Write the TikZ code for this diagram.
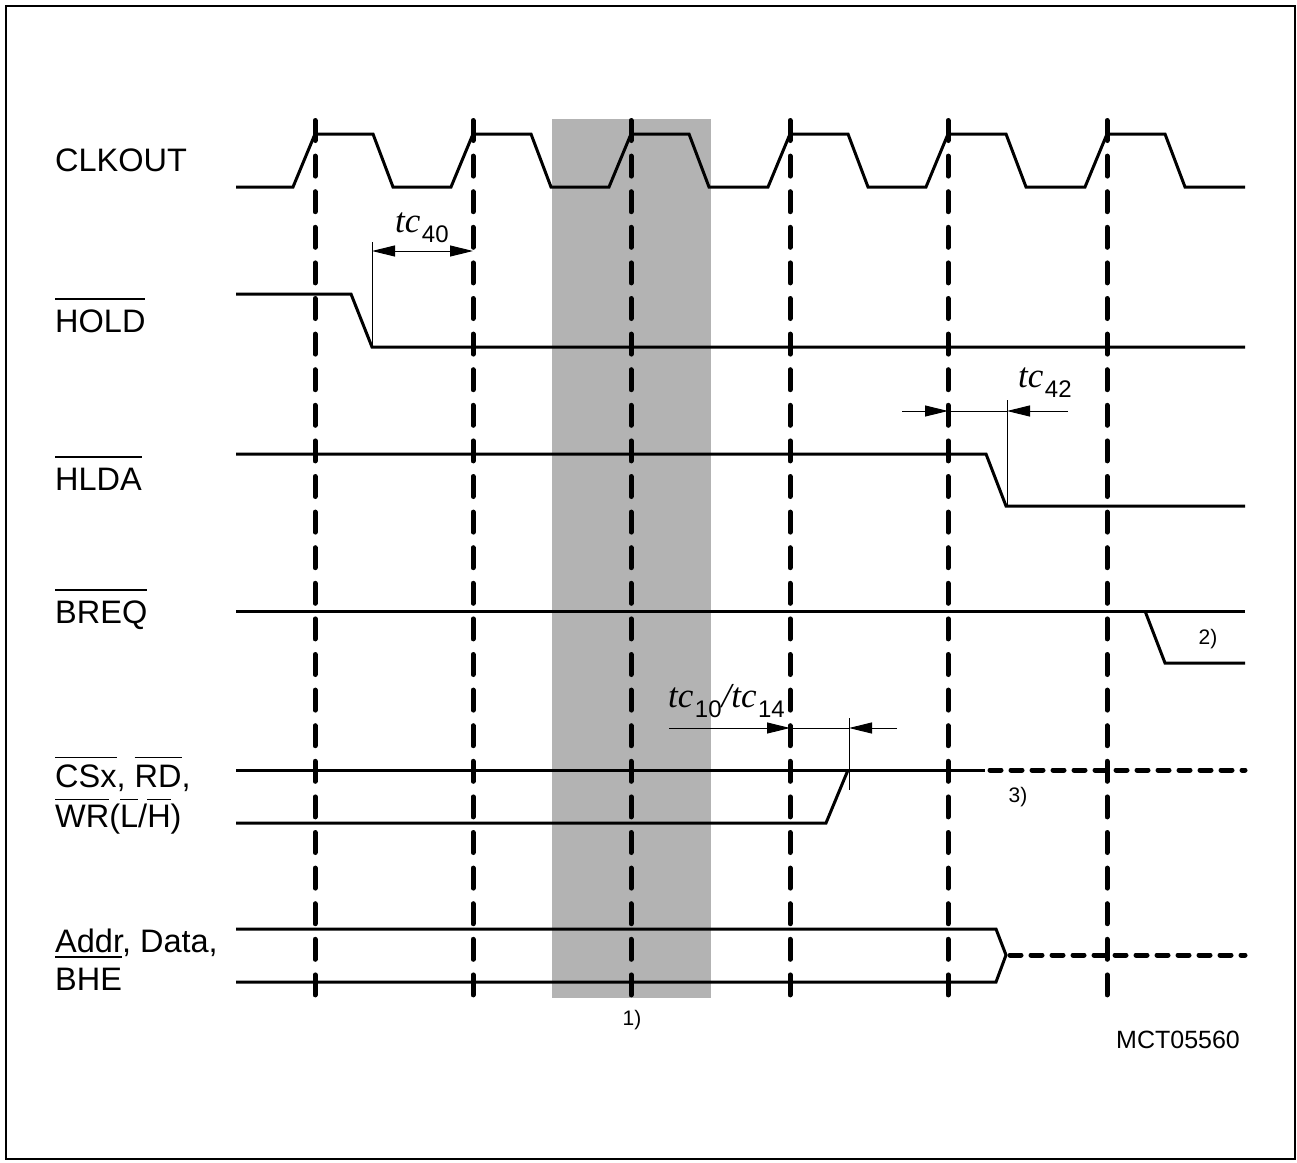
\documentclass[tikz,border=0pt]{standalone}
\usepackage{fontspec}
\setmainfont{Liberation Sans}
\newfontfamily\serifit{Liberation Serif}
\usetikzlibrary{arrows.meta}
\definecolor{bandgray}{RGB}{179,179,179}
\newcommand\ovl[2][1.0em]{\setbox0\hbox{#2}\rlap{\rule[#1]{\wd0}{0.045em}}\box0}
\newcommand\tcit[1]{{\serifit\itshape\fontsize{35}{35}\selectfont #1}}
\newcommand\tcsub[1]{\hspace{1.5pt}\raisebox{-10pt}{\fontsize{24}{24}\selectfont #1}}
\begin{document}
\begin{tikzpicture}[x=1pt,y=-1pt,
  sig/.style={line width=3pt},
  gridline/.style={line width=5pt, line cap=round, dash pattern=on 20pt off 15.6pt},
  dsig/.style={line width=5pt, line cap=round, dash pattern=on 11pt off 10pt},
  dim/.style={line width=1pt},
  tip/.style={-{Triangle[length=23pt,width=11pt]}},
  lbl/.style={anchor=base west, inner sep=0pt, font=\fontsize{32.5}{32.5}\selectfont},
  note/.style={anchor=base, inner sep=0pt, font=\fontsize{21}{21}\selectfont}]
\useasboundingbox (0,0) rectangle (1297,1162);
\draw[line width=2.5pt] (6,6) rectangle (1295,1159);
% shaded region
\fill[bandgray] (552,119) rectangle (711,998);
% CLKOUT
\draw[sig] (236,187) foreach \c in {315,473,631,790,948,1107} { -- (\c-22,187) -- (\c,134) -- (\c+58,134) -- (\c+78,187) } -- (1245,187);
% HOLD
\draw[sig] (236,294) -- (351,294) -- (372,347) -- (1245,347);
% HLDA
\draw[sig] (236,454) -- (986,454) -- (1006,506) -- (1245,506);
% BREQ
\draw[sig] (236,611) -- (1245,611);
\draw[sig] (1145,611) -- (1165,663) -- (1245,663);
% CSx RD WR
\draw[sig] (236,770) -- (985,770);
\draw[dsig] (990,770) -- (1245,770);
\draw[sig] (236,823) -- (826,823) -- (848,770);
% Addr Data BHE
\draw[sig] (236,929) -- (996,929) -- (1006,955) -- (996,982) -- (236,982);
\draw[dsig] (1010,955) -- (1245,955);
% vertical dashed clock lines
\foreach \x in {315,473,631,790,948,1107} { \draw[gridline] (\x,120.5) -- (\x,997.5); }
% tc40
\draw[dim] (372,242) -- (372,347);
\draw[dim,{Triangle[length=23pt,width=11pt]}-{Triangle[length=23pt,width=11pt]}] (372,251) -- (473,251);
\node (t40) [anchor=base west, inner sep=0pt] at (395,232) {\tcit{tc}\tcsub{40}};
% tc42
\draw[dim] (1007,400) -- (1007,506);
\draw[dim,tip] (902,411) -- (948,411);
\draw[dim] (948,411) -- (1007,411);
\draw[dim,tip] (1068,411) -- (1007,411);
\node (t42) [anchor=base west, inner sep=0pt] at (1018,387) {\tcit{tc}\tcsub{42}};
% tc10/tc14
\draw[dim] (849,718) -- (849,790);
\draw[dim,tip] (669,728) -- (790,728);
\draw[dim] (790,728) -- (849,728);
\draw[dim,tip] (897,728) -- (849,728);
\node (t1014) [anchor=base west, inner sep=0pt] at (668,707) {\tcit{tc}\tcsub{10}\tcit{/tc}\tcsub{14}};
% signal labels
\node (lclk) [lbl] at (55,171) {CLKOUT};
\node (lhold) [lbl] at (55,332) {\ovl{HOLD}};
\node (lhlda) [lbl] at (55,490) {\ovl{HLDA}};
\node (lbreq) [lbl] at (55,623) {\ovl{BREQ}};
\node (lcs) [lbl] at (55,787) {\ovl[0.88em]{CSx}, \ovl[0.88em]{RD},};
\node (lwr) [lbl] at (55,827) {\ovl[0.82em]{WR}(\ovl[0.82em]{L}/\ovl[0.82em]{H})};
\node (laddr) [lbl] at (55,952) {Addr, Data,};
\node (lbhe) [lbl] at (55,990) {\ovl{BHE}};
% notes
\node (n1) [note] at (632,1025) {1)};
\node (n2) [note] at (1208,644) {2)};
\node (n3) [note] at (1018,802) {3)};
\node (mct) [anchor=base west, inner sep=0pt, font=\fontsize{25}{25}\selectfont] at (1116,1048) {MCT05560};
\end{tikzpicture}
\end{document}
